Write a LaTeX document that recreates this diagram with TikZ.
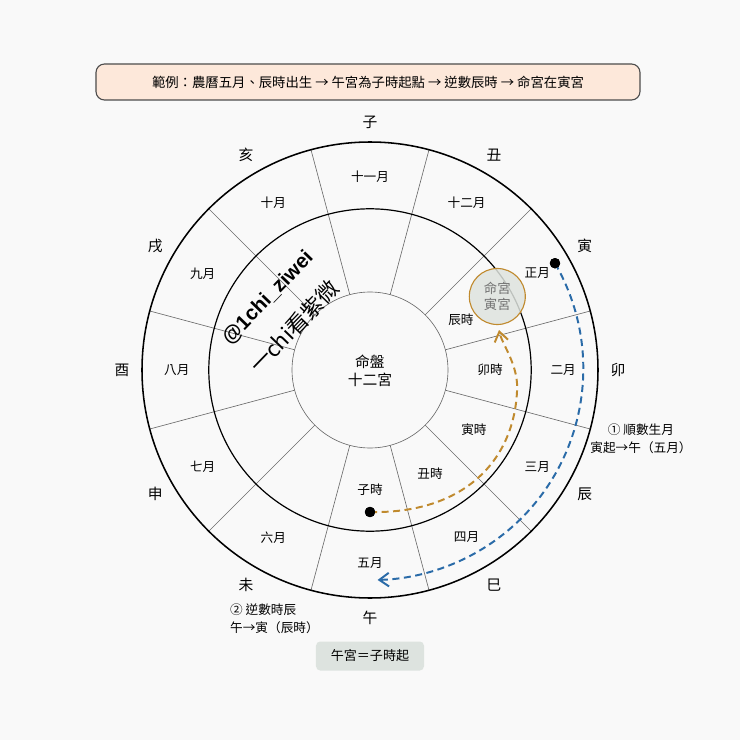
\documentclass[tikz,border=0pt]{standalone}
\usepackage{fontspec}
\setmainfont{Noto Sans CJK TC}
\newfontfamily\marcafont{Liberation Sans}
\usetikzlibrary{arrows.meta}

\definecolor{fundo}{HTML}{F9F9F9}
\definecolor{caixa}{HTML}{FDE8DA}
\definecolor{cinzacaixa}{HTML}{DDE3DF}
\definecolor{ouro}{HTML}{C08A2E}
\definecolor{azul}{HTML}{2A6BA8}
\definecolor{raio}{HTML}{6A6A6A}
\definecolor{mingfill}{HTML}{DEE3DE}

\begin{document}
\begin{tikzpicture}[
    ramo/.style={font=\fontsize{10.5pt}{12pt}\selectfont},
    mes/.style={font=\fontsize{9pt}{11pt}\selectfont},
    hora/.style={font=\fontsize{9pt}{11pt}\selectfont},
    nota/.style={font=\fontsize{9pt}{12.5pt}\selectfont},
    ponto/.style={circle,fill=black,inner sep=0pt,minimum size=2.6mm},
    raiolinha/.style={draw=raio,line width=0.45pt},
    arcoazul/.style={azul,line width=1.4pt,dash pattern=on 5pt off 3.2pt,-{Straight Barb[length=2.4mm,width=3.4mm]}},
    arcoouro/.style={ouro,line width=1.4pt,dash pattern=on 5pt off 3.2pt,-{Straight Barb[length=2.4mm,width=3.4mm]}}
]

    % Fundo
    \fill[fundo] (-9.25,-9.25) rectangle (9.25,9.25);
    \useasboundingbox (-9.25,-9.25) rectangle (9.25,9.25);

    % Raios
    \draw[raiolinha] (15:1.95) -- (15:5.7);
    \draw[raiolinha] (45:1.95) -- (45:5.7);
    \draw[raiolinha] (75:1.95) -- (75:5.7);
    \draw[raiolinha] (105:1.95) -- (105:5.7);
    \draw[raiolinha] (135:1.95) -- (135:5.7);
    \draw[raiolinha] (165:1.95) -- (165:5.7);
    \draw[raiolinha] (195:1.95) -- (195:5.7);
    \draw[raiolinha] (225:1.95) -- (225:5.7);
    \draw[raiolinha] (255:1.95) -- (255:5.7);
    \draw[raiolinha] (285:1.95) -- (285:5.7);
    \draw[raiolinha] (315:1.95) -- (315:5.7);
    \draw[raiolinha] (345:1.95) -- (345:5.7);

    % Círculos
    \draw[line width=1.1pt] (0,0) circle (5.7);
    \draw[line width=0.85pt] (0,0) circle (4.03);
    \draw[raiolinha] (0,0) circle (1.95);

    \node[font=\fontsize{10.5pt}{12.8pt}\selectfont,align=center] (centro) at (0,-0.02) {命盤\\十二宮};

    % Ramos
    \node[ramo] (zi) at (90:6.2) {子};
    \node[ramo] (chou) at (60:6.2) {丑};
    \node[ramo] (yin) at (30:6.2) {寅};
    \node[ramo] (mao) at (0:6.2) {卯};
    \node[ramo] (chen) at (-30:6.2) {辰};
    \node[ramo] (si) at (-60:6.2) {巳};
    \node[ramo] (wu) at (-90:6.2) {午};
    \node[ramo] (wei) at (-120:6.2) {未};
    \node[ramo] (shen) at (-150:6.2) {申};
    \node[ramo] (you) at (180:6.2) {酉};
    \node[ramo] (xu) at (150:6.2) {戌};
    \node[ramo] (hai) at (120:6.2) {亥};

    % Meses
    \node[mes] (mzi) at (90:4.83) {十一月};
    \node[mes] (mchou) at (60:4.83) {十二月};
    \node[mes] (myin) at (30:4.83) {正月};
    \node[mes] (mmao) at (0:4.83) {二月};
    \node[mes] (mchen) at (-30:4.83) {三月};
    \node[mes] (msi) at (-60:4.83) {四月};
    \node[mes] (mwu) at (-90:4.83) {五月};
    \node[mes] (mwei) at (-120:4.83) {六月};
    \node[mes] (mshen) at (-150:4.83) {七月};
    \node[mes] (myou) at (180:4.83) {八月};
    \node[mes] (mxu) at (150:4.83) {九月};
    \node[mes] (mhai) at (120:4.83) {十月};

    % Horas
    \node[hora] (hzi) at (-90:3.0) {子時};
    \node[hora] (hchou) at (-60:3.0) {丑時};
    \node[hora] (hyin) at (-30:3.0) {寅時};
    \node[hora] (hmao) at (0:3.0) {卯時};
    \node[hora] (hchen) at (29:2.6) {辰時};

    % Marca
    \node[rotate=46,inner sep=0pt,font=\marcafont\bfseries\fontsize{14.5pt}{17pt}\selectfont] (marca) at (-2.55,1.8) {@1chi\_ziwei};
    \node[rotate=46,inner sep=0pt,font=\fontsize{15.5pt}{17pt}\selectfont] (marcab) at (-1.9,1.08) {一chi看紫微};

    % 命宮
    \node[circle,draw=ouro,line width=0.8pt,fill=mingfill,fill opacity=0.85,text opacity=1,text=black!55,
          minimum size=1.4cm,inner sep=0pt,align=center,font=\fontsize{9.5pt}{11.4pt}\selectfont]
          (minggong) at (30:3.675) {命宮\\寅宮};
    \coordinate (mingtip) at (3.225,1.0);

    % Setas
    \node[ponto] (dotyin) at (30:5.34) {};
    \node[ponto] (dotzi) at (0,-3.55) {};
    \draw[arcoazul] (dotyin.center) arc[start angle=30,end angle=-88.5,radius=5.28];
    \draw[arcoouro] (dotzi.center) .. controls (2.3,-3.6) and (3.65,-2.3) .. (3.68,-0.4)
        .. controls (3.66,0.2) and (3.3,0.65) .. (mingtip);
    \node[ponto] at (dotyin) {};
    \node[ponto] at (dotzi) {};

    % Notas
    \node[nota,align=center] (passo1) at (6.775,-1.725) {① 順數生月\\寅起→午（五月）};
    \node[nota,align=left,anchor=west] (passo2) at (-3.62,-6.22) {② 逆數時辰\\午→寅（辰時）};

    % Caixas
    \node[draw=black!70,line width=0.8pt,fill=caixa,rounded corners=6pt,minimum width=13.6cm,minimum height=0.9cm,
          font=\fontsize{9.5pt}{11pt}\selectfont] (exemplo) at (-0.05,7.2)
          {範例：農曆五月、辰時出生 → 午宮為子時起點 → 逆數辰時 → 命宮在寅宮};
    \node[fill=cinzacaixa,rounded corners=3pt,minimum width=2.7cm,minimum height=0.725cm,
          font=\fontsize{9.3pt}{11pt}\selectfont] (regra) at (0,-7.15) {午宮＝子時起};

\end{tikzpicture}
\end{document}
